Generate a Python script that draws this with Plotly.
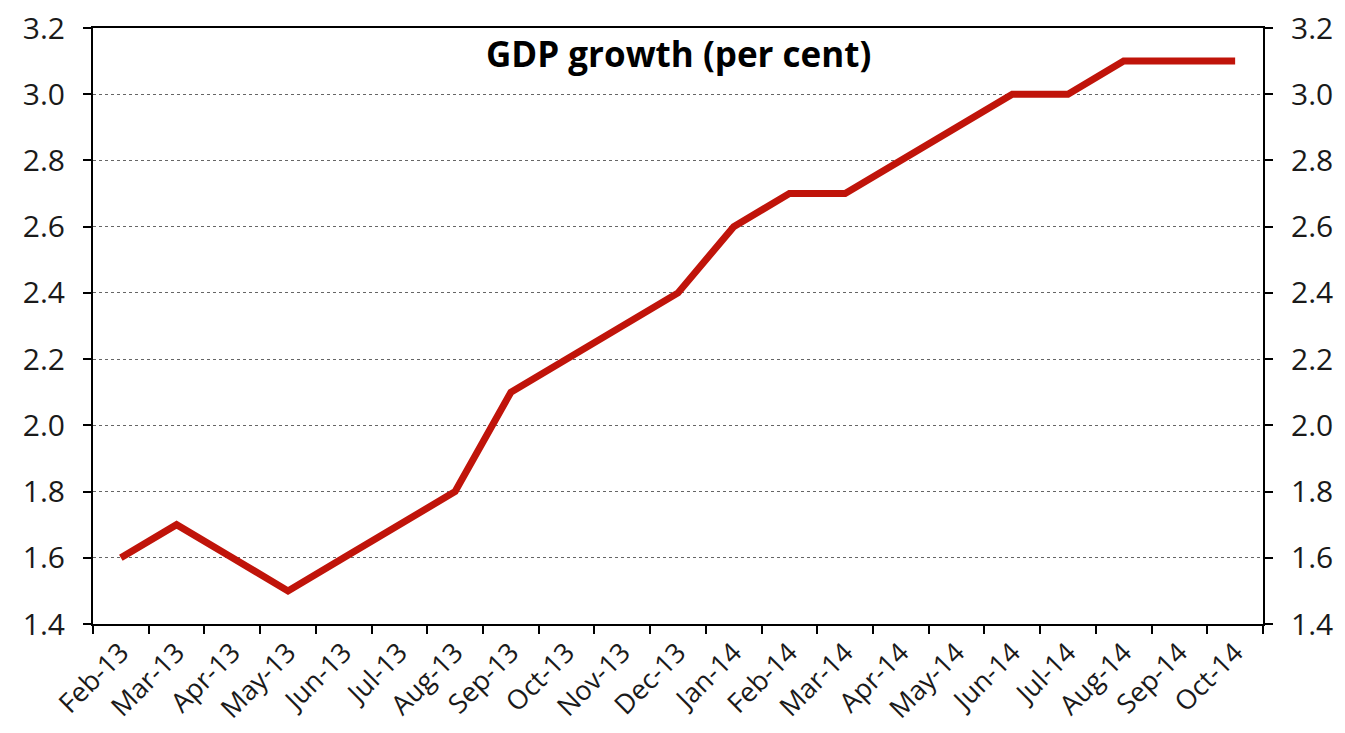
import plotly.graph_objects as go

months = ["Feb-13", "Mar-13", "Apr-13", "May-13", "Jun-13", "Jul-13", "Aug-13",
          "Sep-13", "Oct-13", "Nov-13", "Dec-13", "Jan-14", "Feb-14", "Mar-14",
          "Apr-14", "May-14", "Jun-14", "Jul-14", "Aug-14", "Sep-14", "Oct-14"]
gdp_growth = [1.6, 1.7, 1.6, 1.5, 1.6, 1.7, 1.8, 2.1, 2.2, 2.3, 2.4, 2.6, 2.7, 2.7,
              2.8, 2.9, 3.0, 3.0, 3.1, 3.1, 3.1]
y_ticks = [1.4, 1.6, 1.8, 2.0, 2.2, 2.4, 2.6, 2.8, 3.0, 3.2]
y_tick_text = [f"{v:.1f}" for v in y_ticks]
title = "GDP growth (per cent)"

FONT = "Open Sans, Noto Sans, sans-serif"

fig = go.Figure()
fig.add_trace(go.Scatter(x=months, y=gdp_growth, mode="lines",
                         line=dict(color="#C0140A", width=7),
                         showlegend=False, hoverinfo="x+y"))
fig.add_trace(go.Scatter(x=months, y=gdp_growth, mode="lines", yaxis="y2",
                         line=dict(width=0), opacity=0, showlegend=False,
                         hoverinfo="skip"))

axis_font = dict(family=FONT, size=30, color="#1a1a1a")
x_font = dict(family=FONT, size=27, color="#1a1a1a")

fig.update_layout(
    width=1345, height=733,
    margin=dict(l=93, r=82, t=28, b=109),
    paper_bgcolor="white", plot_bgcolor="white",
    xaxis=dict(type="category", categoryorder="array", categoryarray=months,
               tickson="boundaries", ticks="outside", ticklen=8, tickwidth=1.5,
               tickcolor="black", showline=True, linecolor="black", linewidth=2,
               mirror=True, showgrid=False, tickangle=-45, tickfont=x_font,
               range=[-0.5, len(months) - 0.5], automargin=False),
    yaxis=dict(range=[1.4, 3.2], tickvals=y_ticks, ticktext=y_tick_text,
               ticks="outside", ticklen=8, tickwidth=1.5, tickcolor="black",
               showline=True, linecolor="black", linewidth=2,
               showgrid=True, gridcolor="#666666", griddash="dot", gridwidth=1,
               zeroline=False, tickfont=axis_font, ticklabelstandoff=12,
               automargin=False),
    yaxis2=dict(range=[1.4, 3.2], tickvals=y_ticks, ticktext=y_tick_text,
                overlaying="y", side="right", ticks="outside", ticklen=8,
                tickwidth=1.5, tickcolor="black", showline=True,
                linecolor="black", linewidth=2, showgrid=False,
                zeroline=False, tickfont=axis_font, ticklabelstandoff=12,
                automargin=False),
    annotations=[dict(text=f"<b>{title}</b>", x=0.5, y=1, xref="paper",
                      yref="paper", xanchor="center", yanchor="top",
                      yshift=0, showarrow=False,
                      font=dict(family=FONT, size=35, color="black"))],
)

fig.write_html("out.html")
